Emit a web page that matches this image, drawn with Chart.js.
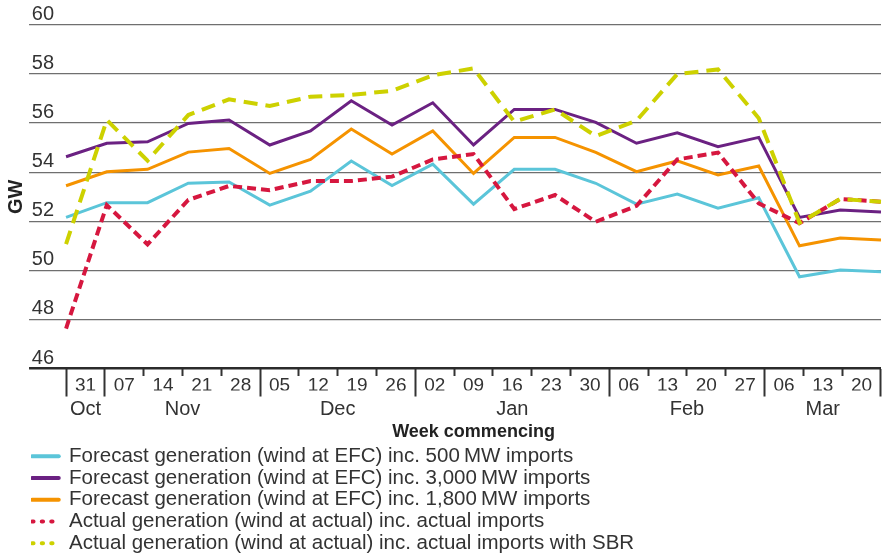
<!DOCTYPE html>
<html>
<head>
<meta charset="utf-8">
<script src="https://cdn.jsdelivr.net/npm/chart.js@4"></script>
<style>
	body { margin: 0; background: #fff; }
	#wrap { width: 887px; height: 556px; }
</style>
</head>
<body>
<div id="wrap"><canvas id="canvasChart"></canvas></div>
<script>
"use strict";

// week commencing labels (Oct 31 .. Mar 20)
var weekLabels = ['31', '07', '14', '21', '28', '05', '12', '19', '26', '02', '09', '16', '23', '30', '06', '13', '20', '27', '06', '13', '20'];
var monthNames = ['Oct', 'Nov', 'Dec', 'Jan', 'Feb', 'Mar'];
var monthPos = [0, 2.5, 6.5, 11, 15.5, 19];
var yTicks = [46, 48, 50, 52, 54, 56, 58, 60];

// GW
var forecast500 = [52.16, 52.76, 52.76, 53.55, 53.60, 52.66, 53.23, 54.46, 53.46, 54.33, 52.70, 54.12, 54.12, 53.55, 52.70, 53.11, 52.53, 52.96, 49.74, 50.01, 49.94];
var forecast3000 = [54.63, 55.18, 55.24, 55.99, 56.13, 55.11, 55.68, 56.91, 55.92, 56.83, 55.11, 56.56, 56.56, 56.03, 55.18, 55.61, 55.04, 55.42, 52.16, 52.46, 52.38];
var forecast1800 = [53.45, 54.02, 54.12, 54.82, 54.97, 53.95, 54.52, 55.76, 54.74, 55.68, 53.95, 55.42, 55.42, 54.81, 54.02, 54.46, 53.89, 54.25, 51.00, 51.32, 51.24];
var actualImports = [47.63, 52.66, 51.06, 52.87, 53.44, 53.27, 53.64, 53.64, 53.82, 54.52, 54.74, 52.50, 53.07, 51.98, 52.63, 54.52, 54.80, 52.73, 51.92, 52.91, 52.80];
var actualWithSBR = [51.07, 56.13, 54.47, 56.33, 56.97, 56.70, 57.08, 57.15, 57.32, 57.95, 58.23, 56.06, 56.56, 55.47, 56.10, 58.00, 58.19, 56.20, 51.94, 52.91, 52.80];

var textColor = '#333';
var fontFamily = '"Liberation Sans", Arial, sans-serif';

function isMonthStart(i) {
	if (i === undefined || i === 0 || i >= weekLabels.length) return true;
	return parseInt(weekLabels[i], 10) < parseInt(weekLabels[i - 1], 10);
}

function isBase(ctx) {
	return ctx.tick && ctx.tick.value === 46;
}

// legend sits indented under the y labels
const legendIndent = {
	id: 'legendIndent',
	afterLayout(chart) {
		chart.legend.left = 31;
	}
};

const context = document.getElementById('canvasChart');
const myChart = new Chart(context, {
	type: 'line',
	data: {
		labels: weekLabels,
		datasets: [{
			label: 'Forecast generation (wind at EFC) inc. 500\u2009MW imports',
			data: forecast500,
			borderColor: '#5bc5d9',
			borderWidth: 3,
			order: 4
		}, {
			label: 'Forecast generation (wind at EFC) inc. 3,000\u2009MW imports',
			data: forecast3000,
			borderColor: '#6b2182',
			borderWidth: 3,
			order: 2
		}, {
			label: 'Forecast generation (wind at EFC) inc. 1,800\u2009MW imports',
			data: forecast1800,
			borderColor: '#f59300',
			borderWidth: 3,
			order: 3
		}, {
			label: 'Actual generation (wind at actual) inc. actual imports',
			data: actualImports,
			borderColor: '#d6173f',
			borderWidth: 4,
			borderDash: [9, 5],
			order: 1
		}, {
			label: 'Actual generation (wind at actual) inc. actual imports with SBR',
			data: actualWithSBR,
			borderColor: '#cdd100',
			borderWidth: 4,
			borderDash: [14, 8],
			order: 0
		}]
	},
	options: {
		responsive: true,
		maintainAspectRatio: false,
		animation: false,
		layout: { padding: { top: 25, right: 6, left: 0, bottom: -7.5 } },
		elements: {
			point: { radius: 0, hoverRadius: 0 },
			line: { tension: 0, fill: false, borderJoinStyle: 'miter' }
		},
		plugins: {
			tooltip: { enabled: false },
			legend: {
				position: 'bottom',
				align: 'start',
				labels: {
					usePointStyle: true,
					pointStyle: 'line',
					pointStyleWidth: 26.5,
					padding: 1.25,
					color: textColor,
					font: { family: fontFamily, size: 20.5 },
					sort: function (a, b) { return a.datasetIndex - b.datasetIndex; },
					generateLabels: function (chart) {
						var items = Chart.defaults.plugins.legend.labels.generateLabels(chart);
						items.forEach(function (item) {
							item.lineWidth = 4;
							item.lineCap = 'round';
							item.lineDash = item.datasetIndex >= 3 ? [1.3, 8.2] : [];
						});
						return items;
					}
				}
			}
		},
		scales: {
			x: {
				display: false,
				offset: false
			},
			xWeek: {
				type: 'category',
				position: 'bottom',
				labels: weekLabels,
				offset: true,
				weight: 0,
				border: { display: false },
				grid: {
					offset: true,
					drawOnChartArea: false,
					tickLength: 28,
					tickWidth: 2,
					tickColor: '#333',
					tickBorderDash: function (ctx) {
						return isMonthStart(ctx.index) ? [] : [7, 40];
					}
				},
				ticks: {
					autoSkip: false,
					maxRotation: 0,
					padding: -21.7,
					color: textColor,
					font: { family: fontFamily, size: 19 }
				},
				// empty title only keeps room for the labels
				title: {
					display: true,
					text: '',
					padding: 0,
					font: { family: fontFamily, size: 12.2 }
				}
			},
			xMonth: {
				type: 'linear',
				position: 'bottom',
				min: -0.5,
				max: 20.5,
				weight: 1,
				border: { display: false },
				grid: { display: false },
				afterBuildTicks: function (axis) {
					axis.ticks = monthPos.map(function (v) { return { value: v }; });
				},
				ticks: {
					autoSkip: false,
					maxRotation: 0,
					padding: -1.3,
					color: textColor,
					font: { family: fontFamily, size: 20 },
					callback: function (value, index) { return monthNames[index]; }
				},
				title: {
					display: true,
					text: 'Week commencing',
					color: '#222',
					padding: { top: 0.8, bottom: 2.4 },
					font: { family: fontFamily, size: 18, weight: 'bold' }
				}
			},
			y: {
				min: 46,
				max: 60,
				border: { display: false },
				afterBuildTicks: function (axis) {
					axis.ticks = yTicks.map(function (v) { return { value: v }; });
				},
				grid: {
					tickLength: 37,
					color: function (ctx) { return isBase(ctx) ? '#2b2b2b' : '#6f6f6f'; },
					lineWidth: function (ctx) { return isBase(ctx) ? 2.5 : 1.3; },
					tickColor: function (ctx) { return isBase(ctx) ? '#2b2b2b' : '#6f6f6f'; },
					tickWidth: function (ctx) { return isBase(ctx) ? 2.5 : 1.3; }
				},
				ticks: {
					padding: -25,
					labelOffset: -10.5,
					color: textColor,
					font: { family: fontFamily, size: 20 }
				},
				title: {
					display: true,
					text: 'GW',
					color: '#222',
					padding: { top: 4, bottom: 28.8 },
					font: { family: fontFamily, size: 20, weight: 'bold' }
				}
			}
		}
	},
	plugins: [legendIndent]
});
</script>
</body>
</html>
